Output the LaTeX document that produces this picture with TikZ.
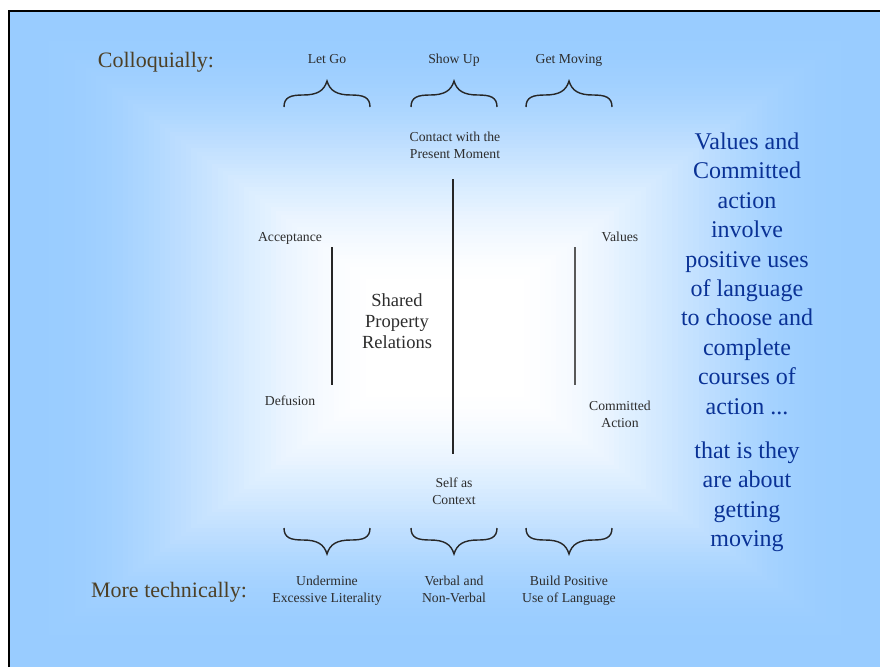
\documentclass[tikz,border=0pt]{standalone}
\usepackage{fontspec}
\setmainfont{Liberation Serif}

\definecolor{slideblue}{RGB}{153,204,255}
\definecolor{labelgray}{RGB}{45,45,45}
\definecolor{headbrown}{RGB}{77,64,38}
\definecolor{noteblue}{RGB}{10,50,150}

\tikzset{
  lbl/.style={inner sep=0pt, anchor=base, align=center, text=labelgray,
              font=\fontsize{13.7}{16.5}\selectfont},
  head/.style={inner sep=0pt, anchor=base, text=headbrown,
               font=\fontsize{22}{26}\selectfont},
  shared/.style={inner sep=0pt, anchor=base, align=center, text=labelgray,
                 font=\fontsize{18.5}{21}\selectfont},
  note/.style={inner sep=0pt, anchor=base, align=center, text=noteblue,
               font=\fontsize{24}{29.4}\selectfont},
  curly/.style={line width=1.4pt, draw=black!85},
  bar/.style={line width=1.4pt, draw=black!85}
}

\begin{document}
\begin{tikzpicture}[x=1pt,y=-1pt]
      \useasboundingbox (0,0) rectangle (880,667);
      \fill[white] (0,0) rectangle (880,667);

      % slide background, rectangular gradient from the centre
      \fill[slideblue] (10,12) rectangle (880,667);
      \foreach \k in {0,...,80}
      {\pgfmathsetmacro{\t}{0.97*(1-\k/80)}
       \pgfmathsetmacro{\s}{min(1,max(0,(\t-0.14)/0.78))}
       \pgfmathtruncatemacro{\p}{100*(3*\s*\s-2*\s*\s*\s)}
       \fill[slideblue!\p!white] ({445-436*\t},{338-327*\t}) rectangle ({445+436*\t},{338+327*\t});
      };
      \draw[line width=2.5pt] (9,667) -- (9,11) -- (880,11);

      \node[head] (colloq) at (156,67) {Colloquially:};
      \node[head] (technical) at (169,597) {More technically:};

      % top row
      \foreach \x/\name/\str in {327/letgo/Let Go,
                                 454/showup/Show Up,
                                 569/getmoving/Get Moving}
      {\node[lbl] (\name) at (\x,63) {\str};
       \draw[curly,shift={(\x,95)}] (-43,12) .. controls (-43,2) and (-36,0) .. (-24,0)
            .. controls (-10,0) and (-3,-4) .. (0,-14)
            .. controls (3,-4) and (10,0) .. (24,0)
            .. controls (36,0) and (43,2) .. (43,12);
      };

      % bottom row (base = last line)
      \foreach \x/\name/\str in {327/undermine/Undermine\\Excessive Literality,
                                 454/verbal/Verbal and\\Non-Verbal,
                                 569/build/Build Positive\\Use of Language}
      {\node[lbl] (\name) at (\x,602) {\str};
       \draw[curly,shift={(\x,540)},yscale=-1] (-43,12) .. controls (-43,2) and (-36,0) .. (-24,0)
            .. controls (-10,0) and (-3,-4) .. (0,-14)
            .. controls (3,-4) and (10,0) .. (24,0)
            .. controls (36,0) and (43,2) .. (43,12);
      };

      \node[lbl] (contact) at (455,158) {Contact with the\\Present Moment};
      \node[lbl] (self) at (454,504) {Self as\\Context};
      \node[lbl] (acceptance) at (290,241) {Acceptance};
      \node[lbl] (defusion) at (290,405) {Defusion};
      \node[lbl] (values) at (620,241) {Values};
      \node[lbl] (committed) at (620,427) {Committed\\Action};
      \node[shared] (shared) at (397,348) {Shared\\Property\\Relations};

      \coordinate (acctop) at (332,247);
      \coordinate (defbot) at (332,385);
      \coordinate (contbot) at (453,179);
      \coordinate (selftop) at (453,454);
      \coordinate (valtop) at (575,247);
      \coordinate (combot) at (575,385);
      \draw[bar] (acctop) -- (defbot);
      \draw[bar] (contbot) -- (selftop);
      \draw[bar,draw=black!65] (valtop) -- (combot);

      \node[note] (noteA) at (747,414) {Values and\\Committed\\action\\involve\\positive uses\\of language\\to choose and\\complete\\courses of\\action ...};
      \node[note] (noteB) at (747,546.5) {that is they\\are about\\getting\\moving};
    \end{tikzpicture}
\end{document}
